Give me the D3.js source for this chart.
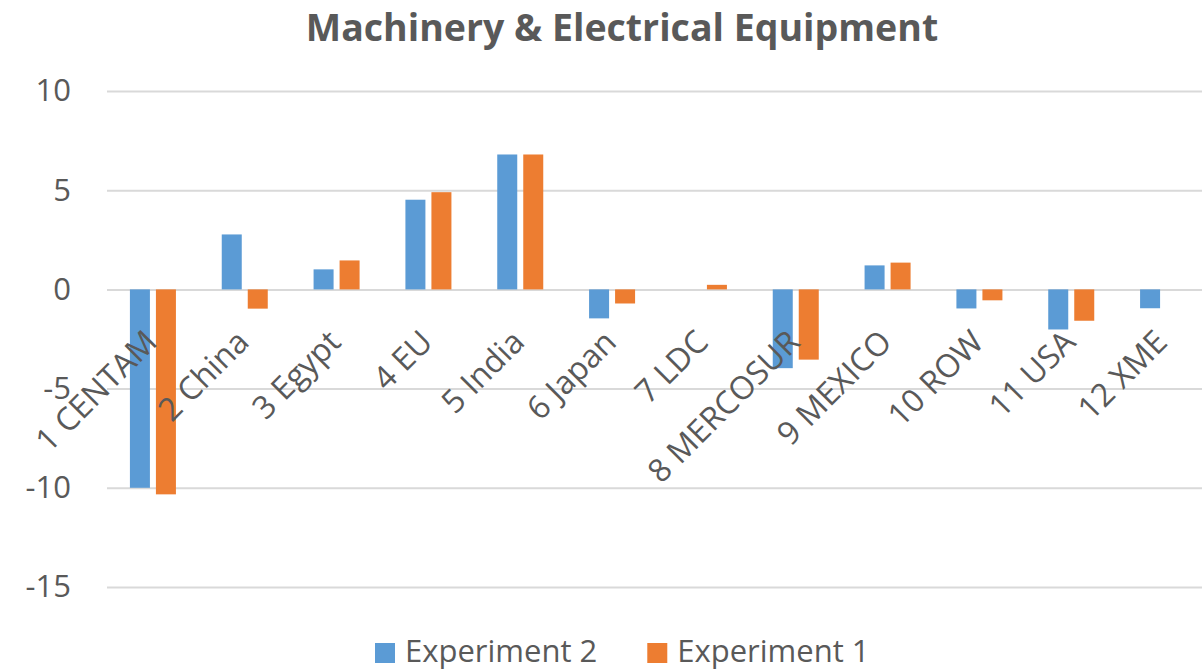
<!DOCTYPE html>
<html>
<head>
<meta charset="utf-8">
<script src="https://cdn.jsdelivr.net/npm/d3@7"></script>
<style>
  html, body { margin: 0; padding: 0; background: #fff; }
  svg { display: block; font-family: "Open Sans", sans-serif; }
</style>
</head>
<body>
<svg id="chart" width="1202" height="671"></svg>
<script>
const title = "Machinery & Electrical Equipment";
const categories = ["1 CENTAM", "2 China", "3 Egypt", "4 EU", "5 India", "6 Japan", "7 LDC", "8 MERCOSUR", "9 MEXICO", "10 ROW", "11 USA", "12 XME"];
const seriesNames = ["Experiment 2", "Experiment 1"];
const experiment2 = [-10.0, 2.77, 1.01, 4.52, 6.8, -1.46, 0.0, -3.97, 1.21, -0.96, -2.02, -0.95];
const experiment1 = [-10.33, -0.97, 1.46, 4.9, 6.8, -0.71, 0.23, -3.54, 1.35, -0.55, -1.58, 0.0];
const yTicks = [10, 5, 0, -5, -10, -15];
const colors = ["#5B9BD5", "#ED7D31"];

const svg = d3.select("#chart");
const textColor = "#595959";
const gridColor = "#D9D9D9";

const y = d3.scaleLinear().domain([-15, 10]).range([587, 91]);
const x0 = d3.scaleBand().domain(categories).range([107, 1209]).paddingInner(0.499).paddingOuter(0.2495);
const x1 = d3.scaleBand().domain(seriesNames).range([0, x0.bandwidth()]).paddingInner(0.2308);

// title
svg.append("text")
  .attr("x", 622).attr("y", 41)
  .attr("text-anchor", "middle")
  .attr("font-size", 37.5).attr("font-weight", "bold")
  .attr("fill", textColor)
  .text(title);

// grid lines + y tick labels
const yAxis = d3.axisLeft(y).tickValues(yTicks).tickSize(-(1202 - 107)).tickPadding(36).tickFormat(d => String(d));
const gAxis = svg.append("g").attr("transform", "translate(107,0)").call(yAxis);
gAxis.select(".domain").remove();
gAxis.selectAll(".tick line").attr("stroke", gridColor).attr("stroke-width", 2);
gAxis.selectAll(".tick text")
  .attr("fill", textColor).attr("font-size", 31)
  .attr("font-family", "Open Sans, sans-serif");

// bars
const data = categories.map((c, i) => ({ cat: c, vals: [experiment2[i], experiment1[i]] }));
const groups = svg.append("g").selectAll("g").data(data).join("g")
  .attr("transform", d => `translate(${x0(d.cat)},0)`);
groups.selectAll("rect")
  .data(d => d.vals.map((v, j) => ({ name: seriesNames[j], v, j })))
  .join("rect")
  .attr("x", d => x1(d.name))
  .attr("width", x1.bandwidth())
  .attr("y", d => y(Math.max(0, d.v)))
  .attr("height", d => Math.abs(y(d.v) - y(0)))
  .attr("fill", d => colors[d.j]);

// category labels
svg.append("g").selectAll("text").data(categories).join("text")
  .attr("transform", d => `translate(${x0(d) + x0.bandwidth() / 2 + 6},344) rotate(-45)`)
  .attr("text-anchor", "end")
  .attr("font-size", 32)
  .attr("fill", textColor)
  .text(d => d);

// legend
const legend = svg.append("g");
let lx = 375;
seriesNames.forEach((name, i) => {
  legend.append("rect").attr("x", lx).attr("y", 643).attr("width", 20).attr("height", 20).attr("fill", colors[i]);
  const t = legend.append("text").attr("x", lx + 30).attr("y", 662)
    .attr("font-size", 31).attr("fill", textColor).text(name);
  const w = t.node().getComputedTextLength();
  lx = lx + 30 + w + 50;
});
</script>
</body>
</html>
